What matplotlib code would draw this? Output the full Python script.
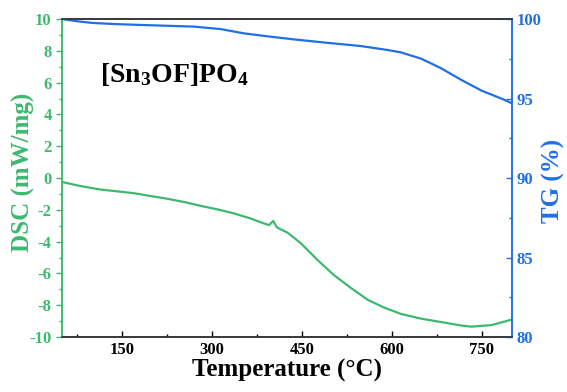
import matplotlib
matplotlib.use("Agg")
import matplotlib.pyplot as plt
from matplotlib.ticker import MultipleLocator

# DSC data (Temperature °C, mW/mg)
dsc_T = [50, 80, 113, 140, 169, 197, 225, 255, 281, 310, 336, 364, 386, 395, 402, 408, 426,
         448, 476, 503, 531, 560, 587, 615, 649, 682, 716, 732, 766, 800]
dsc_v = [-0.25, -0.5, -0.72, -0.83, -0.95, -1.13, -1.3, -1.52, -1.75, -1.98, -2.22, -2.54,
         -2.85, -2.96, -2.7, -3.1, -3.44, -4.1, -5.16, -6.1, -6.9, -7.67, -8.15, -8.55,
         -8.85, -9.06, -9.28, -9.35, -9.25, -8.9]

# TG data (Temperature °C, %)
tg_T = [50, 75, 102, 140, 186, 230, 270, 314, 353, 395, 436, 493, 548, 593, 615, 649, 682,
        716, 749, 782, 800]
tg_v = [100.0, 99.86, 99.75, 99.68, 99.62, 99.57, 99.52, 99.37, 99.1, 98.9, 98.72, 98.5,
        98.3, 98.05, 97.9, 97.5, 96.9, 96.16, 95.5, 95.0, 94.7]

title_text = r"[Sn$_3$OF]PO$_4$"
green = "#3cb96f"
blue = "#1f6fe6"

plt.rcParams['font.family'] = ['Liberation Serif', 'DejaVu Serif']
plt.rcParams['font.weight'] = 'bold'
plt.rcParams['axes.unicode_minus'] = False
plt.rcParams['mathtext.fontset'] = 'custom'
plt.rcParams['mathtext.rm'] = 'Liberation Serif:bold'
plt.rcParams['mathtext.it'] = 'Liberation Serif:bold'
plt.rcParams['mathtext.bf'] = 'Liberation Serif:bold'

fig = plt.figure(figsize=(5.67, 3.92), dpi=100)
ax = fig.add_axes([0.1093, 0.1403, 0.903 - 0.1093, 0.9515 - 0.1403])
ax2 = ax.twinx()

ax.plot(dsc_T, dsc_v, color=green, lw=1.6)
ax2.plot(tg_T, tg_v, color=blue, lw=1.6)

ax.set_xlim(50, 800)
ax.set_ylim(-10, 10)
ax2.set_ylim(80, 100)

ax.xaxis.set_major_locator(MultipleLocator(150))
ax.xaxis.set_minor_locator(MultipleLocator(75))
ax.yaxis.set_major_locator(MultipleLocator(2))
ax.yaxis.set_minor_locator(MultipleLocator(1))
ax2.yaxis.set_major_locator(MultipleLocator(5))
ax2.yaxis.set_minor_locator(MultipleLocator(2.5))

ax.tick_params(axis='x', which='both', direction='in', colors='black', labelsize=12, width=1.0)
ax.tick_params(axis='x', which='major', length=4)
ax.tick_params(axis='x', which='minor', length=2.5)
ax.tick_params(axis='y', which='both', direction='out', colors=green, labelsize=12, width=1.0)
ax.tick_params(axis='y', which='major', length=4)
ax.tick_params(axis='y', which='minor', length=2.5)
ax2.tick_params(axis='y', which='both', direction='in', colors=blue, labelsize=12, width=1.0)
ax2.tick_params(axis='y', which='major', length=4)
ax2.tick_params(axis='y', which='minor', length=2.5)

for a in (ax, ax2):
    a.spines['top'].set_color('#333333')
    a.spines['bottom'].set_color('#333333')
    a.spines['left'].set_color(green)
    a.spines['right'].set_color(blue)
    for s in a.spines.values():
        s.set_linewidth(1.1)

for lab in ax.get_xticklabels() + ax.get_yticklabels() + ax2.get_yticklabels():
    lab.set_fontweight('bold')

ax.set_xlabel("Temperature (°C)", fontsize=18, fontweight='bold', labelpad=1)
ax.set_ylabel("DSC (mW/mg)", fontsize=18, fontweight='bold', color=green)
ax2.set_ylabel("TG (%)", fontsize=18, fontweight='bold', color=blue)
ax.yaxis.set_label_coords(-0.06, 0.517)
ax2.yaxis.set_label_coords(1.066, 0.492)

ax.text(0.084, 0.824, title_text, transform=ax.transAxes, fontsize=20, fontweight='bold',
        ha='left', va='center', color='black')

fig.savefig("out.png", dpi=100)
